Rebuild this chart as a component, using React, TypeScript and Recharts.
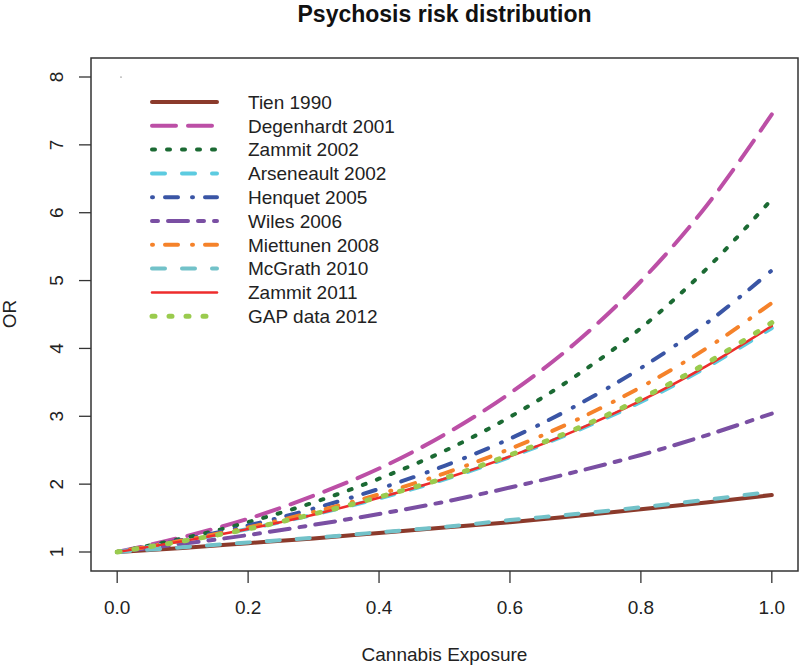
import React from 'react';
import { LineChart, Line, XAxis, YAxis, ReferenceArea, Customized } from 'recharts';

const exposure = [0, 0.1, 0.2, 0.3, 0.4, 0.5, 0.6, 0.7, 0.8, 0.9, 1.0];
const tien1990 = [1, 1.06, 1.13, 1.2, 1.28, 1.36, 1.44, 1.53, 1.63, 1.73, 1.84];
const degenhardt2001 = [1, 1.22, 1.49, 1.83, 2.23, 2.73, 3.34, 4.08, 4.99, 6.1, 7.45];
const zammit2002 = [1, 1.2, 1.44, 1.73, 2.08, 2.49, 2.99, 3.59, 4.3, 5.17, 6.2];
const arseneault2002 = [1, 1.16, 1.34, 1.55, 1.79, 2.07, 2.4, 2.78, 3.21, 3.72, 4.3];
const henquet2005 = [1, 1.18, 1.39, 1.64, 1.93, 2.27, 2.67, 3.15, 3.71, 4.37, 5.15];
const wiles2006 = [1, 1.12, 1.25, 1.4, 1.56, 1.74, 1.95, 2.18, 2.43, 2.72, 3.04];
const miettunen2008 = [1, 1.17, 1.36, 1.59, 1.85, 2.16, 2.52, 2.94, 3.43, 4.0, 4.67];
const mcgrath2010 = [1, 1.07, 1.14, 1.21, 1.29, 1.37, 1.47, 1.56, 1.66, 1.77, 1.89];
const zammit2011 = [1, 1.16, 1.34, 1.55, 1.8, 2.08, 2.41, 2.79, 3.23, 3.74, 4.33];
const gap2012 = [1, 1.16, 1.34, 1.56, 1.81, 2.09, 2.43, 2.81, 3.26, 3.78, 4.38];

const seriesNames = [
  'Tien 1990',
  'Degenhardt 2001',
  'Zammit 2002',
  'Arseneault 2002',
  'Henquet 2005',
  'Wiles 2006',
  'Miettunen 2008',
  'McGrath 2010',
  'Zammit 2011',
  'GAP data 2012',
];
const seriesValues = [
  tien1990,
  degenhardt2001,
  zammit2002,
  arseneault2002,
  henquet2005,
  wiles2006,
  miettunen2008,
  mcgrath2010,
  zammit2011,
  gap2012,
];

const xTicks = [0, 0.2, 0.4, 0.6, 0.8, 1.0];
const yTicks = [1, 2, 3, 4, 5, 6, 7, 8];

const title = 'Psychosis risk distribution';
const xLabel = 'Cannabis Exposure';
const yLabel = 'OR';

// styles (kept apart from data)
const styles = [
  { color: '#8B3A2B', width: 4, dash: undefined },
  { color: '#BC4FA6', width: 4, dash: '24 12' },
  { color: '#1B6A33', width: 4, dash: '3 12' },
  { color: '#5CCBE0', width: 4, dash: '13 17' },
  { color: '#3A55A5', width: 4, dash: '1 12 13 14' },
  { color: '#7A4FA3', width: 4, dash: '6 10 20 10' },
  { color: '#F5822A', width: 4, dash: '1 12 13 14' },
  { color: '#72C2C9', width: 4, dash: '13 17' },
  { color: '#EE2C2C', width: 2.5, dash: undefined },
  { color: '#9ACB4E', width: 5, dash: '3 14' },
];

const keys = seriesNames.map((_, i) => `s${i}`);
const data = exposure.map((x, i) => {
  const row: Record<string, number> = { x };
  seriesValues.forEach((vals, j) => {
    row[keys[j]] = vals[i];
  });
  return row;
});

const FONT = '"Liberation Sans", Arial, Helvetica, sans-serif';
const W = 800;
const H = 666;

const XTick = (props: any) => {
  const { x, y, payload } = props;
  return (
    <text x={x} y={y + 13.5} textAnchor="middle" fontFamily={FONT} fontSize={19} fill="#222">
      {Number(payload.value).toFixed(1)}
    </text>
  );
};

const YTick = (props: any) => {
  const { x, y, payload } = props;
  return (
    <text
      x={x}
      y={y}
      transform={`rotate(-90 ${x} ${y})`}
      textAnchor="middle"
      fontFamily={FONT}
      fontSize={19}
      fill="#222"
    >
      {payload.value}
    </text>
  );
};

const Decorations = () => {
  const legendX1 = 152;
  const legendX2 = 217;
  const legendTextX = 248;
  const legendTop = 102;
  const rowH = 23.8;
  return (
    <g>
      <text x={444.5} y={22} textAnchor="middle" fontFamily={FONT} fontSize={23} fontWeight="bold" fill="#111">
        {title}
      </text>
      <text x={444.5} y={661} textAnchor="middle" fontFamily={FONT} fontSize={19} fill="#222">
        {xLabel}
      </text>
      <text
        x={16}
        y={314}
        transform="rotate(-90 16 314)"
        textAnchor="middle"
        fontFamily={FONT}
        fontSize={19}
        fill="#222"
      >
        {yLabel}
      </text>
      <circle cx={121} cy={77} r={0.6} fill="#333" />
      {seriesNames.map((name, i) => {
        const cy = legendTop + i * rowH;
        const st = styles[i];
        return (
          <g key={name}>
            <line
              x1={legendX1}
              x2={legendX2}
              y1={cy}
              y2={cy}
              stroke={st.color}
              strokeWidth={st.width}
              strokeDasharray={st.dash}
              strokeLinecap="round"
            />
            <text x={legendTextX} y={cy + 6.7} fontFamily={FONT} fontSize={19} fill="#222">
              {name}
            </text>
          </g>
        );
      })}
    </g>
  );
};

export default function App() {
  return (
    <div style={{ position: 'absolute', left: 0, top: 0, width: W, height: H, background: '#fff' }}>
      <LineChart width={W} height={H} data={data} margin={{ top: 58, right: 2, bottom: 0, left: 0 }}>
        <XAxis
          dataKey="x"
          type="number"
          domain={[-0.04, 1.04]}
          ticks={xTicks}
          allowDataOverflow
          axisLine={false}
          tickLine={{ stroke: '#333', strokeWidth: 1.3 }}
          tickSize={12}
          tickMargin={17}
          height={95}
          tick={<XTick />}
          interval={0}
        />
        <YAxis
          type="number"
          domain={[0.72, 8.28]}
          ticks={yTicks}
          allowDataOverflow
          axisLine={false}
          tickLine={{ stroke: '#333', strokeWidth: 1.3 }}
          tickSize={12}
          tickMargin={16}
          width={91}
          tick={<YTick />}
          interval={0}
        />
        <ReferenceArea
          x1={-0.04}
          x2={1.04}
          y1={0.72}
          y2={8.28}
          fill="none"
          fillOpacity={0}
          stroke="#333"
          strokeWidth={1.5}
          ifOverflow="visible"
        />
        {keys.map((k, i) => (
          <Line
            key={k}
            dataKey={k}
            name={seriesNames[i]}
            type="monotone"
            stroke={styles[i].color}
            strokeWidth={styles[i].width}
            strokeDasharray={styles[i].dash}
            strokeLinecap="round"
            dot={false}
            activeDot={false}
            isAnimationActive={false}
          />
        ))}
        <Customized component={Decorations} />
      </LineChart>
    </div>
  );
}
